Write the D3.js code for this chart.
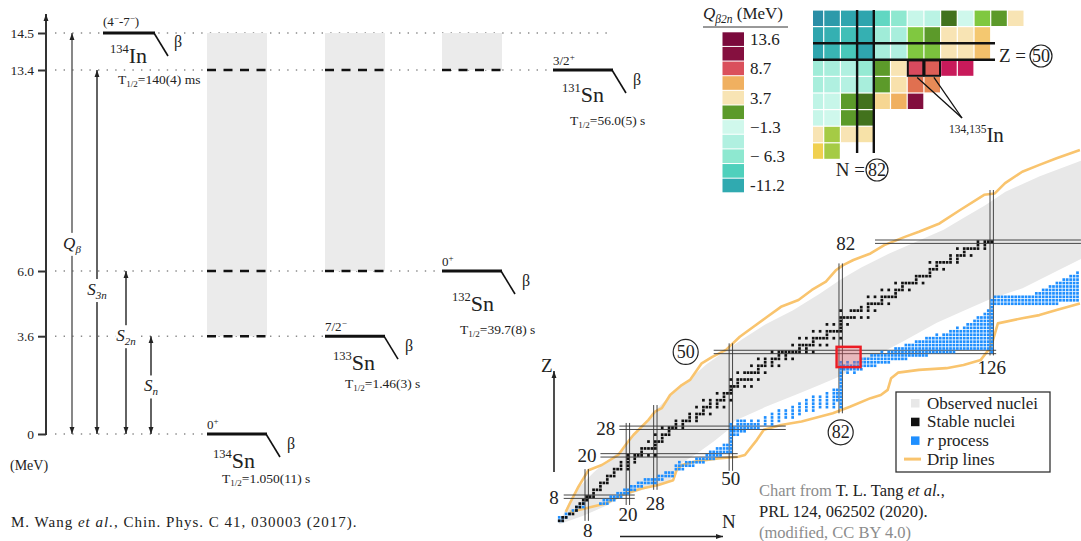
<!DOCTYPE html>
<html>
<head>
<meta charset="utf-8">
<script src="https://cdn.jsdelivr.net/npm/d3@7"></script>
<style>
body { margin: 0; background: #fff; }
svg { display: block; font-family: "Liberation Serif", "Times New Roman", serif; }
</style>
</head>
<body>
<div id="container"></div>
<script>
///level scheme data
const levelE = [0, 3.6, 6.0, 13.4, 14.5];
const nuclei = ["134Sn", "133Sn", "132Sn", "131Sn"];
const nucleiMass = ["134", "133", "132", "131"];
const nucleiE = [0, 3.6, 6.0, 13.4];
const nucleiSpin = [["0", "+"], ["7/2", "\u2212"], ["0", "+"], ["3/2", "+"]];
const nucleiHalf = ["1.050(11) s", "1.46(3) s", "39.7(8) s", "56.0(5) s"];
const parentMass = "134", parentE = 14.5, parentHalf = "140(4) ms";
const windowLow = [3.6, 6.0, 13.4]; // shaded windows under 134Sn, 133Sn, 132Sn
const gapNames = ["Q", "S", "S", "S"];
const gapSubs = ["\u03b2", "3n", "2n", "n"];
const gapE = [14.5, 13.4, 6.0, 3.6];
const gapLabelE = [7.0, 5.3, 3.6, 1.75];

///nuclear chart data [N, Z]
const protonDrip = [[1.9,3.6],[3.1,6.1],[4.1,8],[5.6,10.9],[8.5,15.7],[12.4,17.2],[17.2,20.1],[19.7,23.5],[21.6,25.9],[26,30.3],[27.9,32.7],[29.9,33.7],[32.3,37.5],[35.7,40.4],[38.1,41.9],[41.5,46.7],[44.6,48.6],[48.6,50.6],[52.6,54.4],[56.6,57.3],[60.6,60.2],[64.6,63.1],[69.7,65.1],[73.6,68],[77.7,70.4],[80.7,73.8],[82.7,75.2],[85.7,76.7],[90.7,78.6],[94.7,81],[100.7,83.4],[104.8,84.9],[110.8,87.3],[116.8,91.2],[123.8,95.6],[126.9,96],[129.9,99],[134.9,102.3],[139.9,104.3],[144.9,106.2],[151.7,108.6]];
const neutronDrip = [[3.1,3.6],[7.5,4.6],[13.8,6.1],[15.3,7],[18.2,8.5],[24,10.4],[28.9,11.4],[33.2,12.8],[34.2,15.7],[35.7,17.2],[39.6,18.2],[46.3,19.1],[52.2,19.6],[54.1,20.1],[57.6,24.5],[59.6,27.4],[64.6,28.8],[70.6,29.8],[79.7,32.2],[84.7,34.1],[90.7,36.6],[93.7,37.5],[95.7,39],[96.7,42.4],[98.7,44],[104.8,44.8],[112.8,45.3],[117.8,46.2],[122.8,47.7],[125.8,51.5],[127.8,58.3],[134.9,59.8],[139.9,60.7],[144.9,62.2],[151.7,64.1]];
const observedUpper = [[0,0.5],[1.5,3.5],[3,6.5],[5,10],[8,13],[10,15],[14,18.5],[18,21.5],[21,25.5],[25,29.5],[28,33],[31,36],[35,39.5],[39,43],[43,46.5],[48,50],[53,53.5],[60,58],[68,62],[76,67],[82,71],[88,74.5],[96,78.5],[104,82],[112,85.5],[118,89],[124,92.5],[130,96.5],[140,101],[152,105.5]];
const observedLower = [[152,77],[145,73.5],[135,68.5],[126,65.5],[118,62],[110,58.5],[100,53],[88,46.8],[82,43],[76,40.5],[70,38],[60,34],[51,30],[50,28],[45,24],[40,20.5],[36,18],[34,15],[32,12.5],[26,10.5],[18,8],[14,5.5],[7,2.5],[0,0]];
// stable nuclei: [Z, N, N, ...]
const stable = [[1,0,1],[2,1,2],[3,3,4],[4,5],[5,5,6],[6,6,7],[7,7,8],[8,8,9,10],[9,10],[10,10,11,12],[11,12],[12,12,13,14],[13,14],[14,14,15,16],[15,16],[16,16,17,18,20],[17,18,20],[18,18,20,22],[19,20,22],[20,20,22,23,24,26,28],[21,24],[22,24,25,26,27,28],[23,28],[24,26,28,29,30],[25,30],[26,28,30,31,32],[27,32],[28,30,32,33,34,36],[29,34,36],[30,34,36,37,38,40],[31,38,40],[32,38,40,41,42,44],[33,42],[34,40,42,43,44,46,48],[35,44,46],[36,42,44,46,47,48,50],[37,48],[38,46,48,49,50],[39,50],[40,50,51,52,54,56],[41,52],[42,50,52,53,54,55,56,58],[44,52,54,55,56,57,58,60],[45,58],[46,56,58,59,60,62,64],[47,60,62],[48,58,60,62,63,64,66,68],[49,64,66],[50,62,64,65,66,67,68,69,70,72,74],[51,70,72],[52,68,70,71,72,73,74,76,78],[53,74],[54,70,72,74,75,76,77,78,80,82],[55,78],[56,74,76,78,79,80,81,82],[57,82],[58,78,80,82,84],[59,82],[60,82,83,84,85,86,88,90],[62,82,85,86,87,88,90,92],[63,88,90],[64,90,91,92,93,94,96],[65,94],[66,90,92,94,95,96,97,98],[67,98],[68,94,96,98,99,100,102],[69,100],[70,98,100,101,102,103,104,106],[71,104],[72,104,105,106,107,108],[73,108],[74,108,109,110,112],[75,110],[76,108,110,111,112,113,114,116],[77,114,116],[78,114,116,117,118,120],[79,118],[80,116,118,119,120,121,122,124],[81,122,124],[82,122,124,125,126]];
// r-process path: [N, Zmin, Zmax]
const rProcess = [[0,1,2],[1,1,2],[2,2,3],[3,3,3],[4,4,4],[5,4,5],[6,5,5],[7,5,6],
[12,6,6],[13,6,7],[14,6,7],[15,7,8],[16,7,8],[17,8,9],[18,8,9],[19,9,10],[20,9,10],[21,10,11],[22,10,11],[23,11,12],[24,11,12],[25,12,13],[26,12,13],[27,12,13],[28,12,13],[29,13,14],[30,13,14],[31,14,15],[32,14,15],[33,14,15],[34,16,17],[35,16,18],[36,16,17],[37,17,18],[38,17,18],[39,17,18],[40,18,19],[41,18,19],[42,18,19],[43,19,20],[44,19,21],[45,19,21],[46,20,22],[47,20,22],[48,21,23],[49,21,23],[50,21,29],[51,26,28],[52,26,30],[53,27,30],[54,27,30],[55,28,29],[56,28,30],[57,28,29],[58,28,30],
[60,29,31],[62,29,32],[64,30,33],[66,31,33],[68,31,34],[70,32,35],[72,33,36],[74,33,37],[76,34,37],[78,34,38],[80,34,39],[81,36,39],[82,34,47],
[83,45,46],[84,44,47],[85,45,46],[86,44,47],[87,45,47],[88,45,48],[89,46,48],[90,46,48],[91,46,49],[92,46,49],[93,47,49],[94,47,50],[95,47,49],[96,47,50],[97,48,50],[98,48,51],[99,48,51],[100,48,51],[101,48,52],[102,49,52],[103,49,52],[104,49,53],[105,49,53],[106,49,53],[107,49,54],[108,50,54],[109,50,54],[110,50,55],[111,50,54],[112,50,55],[113,50,55],[114,50,56],[115,50,56],[116,51,57],[117,51,56],[118,51,57],[119,51,58],[120,51,58],[121,51,59],[122,51,60],[123,51,60],[124,51,61],[125,51,62],[126,50,65],
[127,64,66],[128,64,66],[129,64,66],[130,64,66],[131,64,66],[132,64,66],[133,64,66],[134,64,66],[135,64,66],[136,64,66],[137,64,66],[138,64,66],[139,64,67],[140,64,67],[141,64,68],[142,64,68],[143,64,69],[144,64,69],[145,64,70],[146,65,70],[147,65,71],[148,65,71],[149,65,72],[150,65,72],[151,65,73]];
const magicN = [8, 20, 28, 50, 82, 126];
const magicNZ = [[1,16],[5.6,29.4],[10,34.6],[15.5,52.5],[32.2,75.7],[49,97]];
const magicZ = [8, 20, 28, 50, 82];
const magicZN = [[1.3,22],[12,52],[17.5,66],[45,127.3],[92,152]];
const highlightN = [80.8, 87.8], highlightZ = [45.6, 51.5];

///inset data: Q(beta 2n) in MeV, rows Z, columns start at N=79
const insetZ = [52, 51, 50, 49, 48, 47, 46, 45, 44];
const insetQ = [
  [-13, -12.2, -11.5, -11.5, -8.0, -6.3, -2.0, -3.0, -0.6, -1.4, 2.0, 1.3, 3.7],
  [-11.5, -10.8, -9.8, -10.8, -5.0, -4.4, 2.0, 1.3, 3.7, 3.7, 5.3],
  [-11.5, -10.5, -9.2, -11.5, -4.4, -3.8, 2.0, 1.9, 3.7, 3.7, 5.6],
  [-5.0, -4.4, -3.8, -5.8, 1.3, 3.7, 8.9, 8.2, 10, 10],
  [-4.4, -3.8, -3.4, -4.4, 1.3, 3.9, 7.6, 7.0],
  [-2.6, -2.0, 1.3, -0.6, 4.5, 6.2, 12],
  [-2.0, -1.4, 1.3, -0.6],
  [3.7, 2.3, 3.7, 3.6],
  [2.9, 2.3]
];
const insetN0 = 79;
const boxedN = [85, 86], boxedZ = 49;
const legendQ = [13.6, 11.2, 8.7, 6.2, 3.7, 1.3, -1.3, -3.8, -6.3, -8.7, -11.2];
const legendText = ["13.6", "", "8.7", "", "3.7", "", "\u22121.3", "", "\u2212 6.3", "", "-11.2"];

///colour scale
const qStops = [-13, -11.2, -8.7, -6.3, -3.8, -1.3, -1.0, 1.3, 2.0, 2.9, 3.7, 5.3, 6.2, 7.6, 8.9, 10, 11.2, 13.6];
const qColors = ["#2a8ea6", "#30aab0", "#4fd0bc", "#8ee8d0", "#b0f0e0", "#d0f8ec", "#3d6a1a", "#5c9a2a", "#80c840", "#f0d050", "#f8e4b4", "#f4c870", "#f0b060", "#e07050", "#d94a5e", "#c81a5a", "#85103f", "#7b0a3c"];
const qColor = d3.scaleLinear().domain(qStops).range(qColors);

///svg
let w = 1081, h = 541;
const svg = d3.select("#container").append("svg").attr("width", w).attr("height", h);
const defs = svg.append("defs");
defs.append("marker").attr("id", "arr").attr("viewBox", "0 0 10 10")
  .attr("refX", 10).attr("refY", 5).attr("markerWidth", 7).attr("markerHeight", 7)
  .attr("markerUnits", "userSpaceOnUse").attr("orient", "auto-start-reverse")
  .append("path").attr("d", "M0,1.5 L10,5 L0,8.5 z").attr("fill", "#222");
const ink = "#222";

function nucLabel(g, x, y, mass, sym) {
  const t = g.append("text").attr("x", x).attr("y", y).attr("fill", ink);
  t.append("tspan").attr("font-size", 12.5).attr("dy", -10).text(mass);
  t.append("tspan").attr("font-size", 22).attr("dy", 10).text(sym);
}
function halfLabel(g, x, y, val) {
  const t = g.append("text").attr("x", x).attr("y", y).attr("font-size", 13.5).attr("fill", ink);
  t.append("tspan").text("T");
  t.append("tspan").attr("font-size", 9).attr("dy", 3).text("1/2");
  t.append("tspan").attr("dy", -3).text("=" + val);
}
function spinLabel(g, x, y, parts) {
  const t = g.append("text").attr("x", x).attr("y", y).attr("font-size", 13).attr("fill", ink);
  parts.forEach((p, i) => {
    t.append("tspan").attr("font-size", i % 2 ? 9 : 13).attr("dy", i === 0 ? 0 : (i % 2 ? -5 : 5)).text(p);
  });
}

///=== level scheme ===
const yE = d3.scaleLinear().domain([0, 13.4, 14.5]).range([434, 70, 33]);
const xCol = d3.scaleOrdinal().domain(nuclei).range([207, 325, 442, 553]);
const xGap = d3.scaleOrdinal().domain(gapSubs).range([72, 97, 126, 151]);
const barW = 60, parentX = 103, parentW = 52;
const gLev = svg.append("g");

// dotted guide lines
const dotEnd = levelE.map(E => E === parentE ? xCol("131Sn") + barW : xCol(nuclei[nucleiE.indexOf(E)]));
gLev.selectAll(".dot").data(levelE).join("line")
  .attr("x1", 55).attr("x2", (d, i) => dotEnd[i])
  .attr("y1", d => yE(d)).attr("y2", d => yE(d))
  .attr("stroke", "#8a8a8a").attr("stroke-width", 1.4).attr("stroke-dasharray", "1.4 7.2");

// shaded windows
gLev.selectAll(".win").data(windowLow).join("rect")
  .attr("x", (d, i) => xCol(nuclei[i])).attr("width", barW)
  .attr("y", yE(parentE)).attr("height", d => yE(d) - yE(parentE))
  .attr("fill", "#ebebeb");
windowLow.forEach((lo, i) => {
  levelE.filter(E => E < parentE && E >= lo).forEach(E => {
    gLev.append("line").attr("x1", xCol(nuclei[i])).attr("x2", xCol(nuclei[i]) + barW)
      .attr("y1", yE(E)).attr("y2", yE(E))
      .attr("stroke", "#111").attr("stroke-width", 2.4).attr("stroke-dasharray", "9 7.5");
  });
});

// axis
const yAxis = d3.axisLeft(yE).tickValues(levelE).tickSize(8).tickPadding(4)
  .tickFormat(d => d === 0 ? "0" : d3.format(".1f")(d));
const ax = svg.append("g").attr("transform", "translate(46,0)").call(yAxis);
ax.attr("font-family", null).attr("font-size", 13.5);
ax.select(".domain").remove();
ax.selectAll("line").attr("stroke", "#333").attr("stroke-width", 2);
ax.selectAll("text").attr("fill", ink);
svg.append("line").attr("x1", 46).attr("x2", 46).attr("y1", yE(0) + 1).attr("y2", 14)
  .attr("stroke", "#333").attr("stroke-width", 2).attr("marker-end", "url(#arr)");
svg.append("text").attr("x", 10).attr("y", 470).attr("font-size", 14).attr("fill", ink).text("(MeV)");

// energy gaps
gapSubs.forEach((s, i) => {
  const x = xGap(s);
  gLev.append("line").attr("x1", x).attr("x2", x).attr("y1", yE(0)).attr("y2", yE(gapE[i]))
    .attr("stroke", i === 0 ? "#555" : "#222").attr("stroke-width", 1.4)
    .attr("marker-start", "url(#arr)").attr("marker-end", "url(#arr)");
  const bg = gLev.append("rect").attr("fill", "#fff");
  const t = gLev.append("text").attr("x", x).attr("y", yE(gapLabelE[i]) + 5)
    .attr("text-anchor", "middle").attr("font-style", "italic").attr("font-size", 17).attr("fill", ink);
  t.append("tspan").text(gapNames[i]);
  t.append("tspan").attr("font-size", 11).attr("dy", 4).text(s);
  const b = t.node().getBBox();
  bg.attr("x", b.x - 1).attr("y", b.y - 1).attr("width", b.width + 2).attr("height", b.height + 2);
});

// daughter levels
const nucDx = [6, 8, 10, 9], nucDy = [34, 34, 40, 32];
const halfDx = [15, 20, 18, 17], halfDy = [49, 52, 63, 55];
nuclei.forEach((n, i) => {
  const x = xCol(n), y = yE(nucleiE[i]);
  gLev.append("line").attr("x1", x).attr("x2", x + barW).attr("y1", y).attr("y2", y)
    .attr("stroke", "#111").attr("stroke-width", 3);
  gLev.append("line").attr("x1", x + barW - 1).attr("x2", x + barW + 13).attr("y1", y).attr("y2", y + 23)
    .attr("stroke", "#111").attr("stroke-width", 1.6);
  gLev.append("text").attr("x", x + barW + 20).attr("y", y + 15).attr("font-size", 16).attr("fill", ink).text("\u03b2");
  spinLabel(gLev, x, y - 5, nucleiSpin[i]);
  nucLabel(gLev, x + nucDx[i], y + nucDy[i], nucleiMass[i], "Sn");
  halfLabel(gLev, x + halfDx[i], y + halfDy[i], nucleiHalf[i]);
});
// parent 134In
{
  const y = yE(parentE);
  gLev.append("line").attr("x1", parentX).attr("x2", parentX + parentW).attr("y1", y).attr("y2", y)
    .attr("stroke", "#111").attr("stroke-width", 3);
  gLev.append("line").attr("x1", parentX + parentW - 1).attr("x2", parentX + parentW + 13).attr("y1", y).attr("y2", y + 23)
    .attr("stroke", "#111").attr("stroke-width", 1.6);
  gLev.append("text").attr("x", parentX + parentW + 19).attr("y", y + 14).attr("font-size", 16).attr("fill", ink).text("\u03b2");
  spinLabel(gLev, parentX, y - 7, ["(4", "\u2212", "-7", "\u2212", ")"]);
  nucLabel(gLev, parentX + 7, y + 30, parentMass, "In");
  halfLabel(gLev, parentX + 15, y + 51, parentHalf);
}
{
  const t = svg.append("text").attr("x", 11).attr("y", 527).attr("font-size", 15).attr("fill", ink).attr("letter-spacing", 1.0);
  t.append("tspan").text("M. Wang ");
  t.append("tspan").attr("font-style", "italic").text("et al.");
  t.append("tspan").text(", Chin. Phys. C 41, 030003 (2017).");
}

///=== nuclear chart ===
const xN = d3.scaleLinear().domain([8, 126]).range([586.7, 991.7]);
const yZ = d3.scaleLinear().domain([8, 82]).range([496.7, 241.7]);
const gC = svg.append("g");
const line = d3.line().x(d => xN(d[0])).y(d => yZ(d[1]));

gC.append("path").attr("d", line(observedUpper.concat(observedLower)) + "Z").attr("fill", "#e8e8e8");
[protonDrip, neutronDrip].forEach(dl => {
  gC.append("path").attr("d", line(dl)).attr("fill", "none")
    .attr("stroke", "#f9c46e").attr("stroke-width", 2.6).attr("stroke-linejoin", "round");
});

// magic numbers: double lines
function dbl(x1, y1, x2, y2, vert) {
  [-1.7, 1.7].forEach(o => {
    gC.append("line").attr("x1", x1 + (vert ? o : 0)).attr("x2", x2 + (vert ? o : 0))
      .attr("y1", y1 + (vert ? 0 : o)).attr("y2", y2 + (vert ? 0 : o))
      .attr("stroke", "#333").attr("stroke-width", 0.9);
  });
}
magicN.forEach((n, i) => dbl(xN(n), yZ(magicNZ[i][0]), xN(n), yZ(magicNZ[i][1]), true));
magicZ.forEach((z, i) => dbl(xN(magicZN[i][0]), yZ(z), xN(magicZN[i][1]), yZ(z), false));

// stable & r-process cells
const stableCells = stable.flatMap(r => r.slice(1).map(n => [n, r[0]]));
const rCells = rProcess.flatMap(r => d3.range(r[1], r[2] + 1).map(z => [r[0], z]));
const cs = 2.7;
gC.selectAll(".rp").data(rCells).join("rect")
  .attr("x", d => xN(d[0]) - cs / 2).attr("y", d => yZ(d[1]) - cs / 2)
  .attr("width", cs).attr("height", cs).attr("fill", "#1f8fff");
gC.selectAll(".st").data(stableCells).join("rect")
  .attr("x", d => xN(d[0]) - cs / 2).attr("y", d => yZ(d[1]) - cs / 2)
  .attr("width", cs).attr("height", cs).attr("fill", "#111");

gC.append("rect").attr("x", xN(highlightN[0])).attr("y", yZ(highlightZ[1]))
  .attr("width", xN(highlightN[1]) - xN(highlightN[0])).attr("height", yZ(highlightZ[0]) - yZ(highlightZ[1]))
  .attr("fill", "rgba(235,95,105,0.35)").attr("stroke", "#ec1c24").attr("stroke-width", 2.4);

function numLabel(x, y, s, anchor) {
  gC.append("text").attr("x", x).attr("y", y).attr("text-anchor", anchor || "middle")
    .attr("font-size", 19).attr("fill", ink).text(s);
}
function circled(g, x, y, s, r) {
  g.append("circle").attr("cx", x).attr("cy", y).attr("r", r).attr("fill", "none").attr("stroke", "#222").attr("stroke-width", 1.2);
  g.append("text").attr("x", x).attr("y", y + 6).attr("text-anchor", "middle").attr("font-size", 18).attr("fill", ink).text(s);
}
// Z labels left of lines, N labels below lines
numLabel(xN(magicZN[0][0]) - 5, yZ(8) + 7, "8", "end");
numLabel(xN(magicZN[1][0]) - 4, yZ(20) + 7, "20", "end");
numLabel(xN(magicZN[2][0]) - 4, yZ(28) + 7, "28", "end");
circled(gC, xN(magicZN[3][0]) - 28, yZ(50), "50", 12.5);
numLabel(xN(82) + 5, yZ(magicNZ[4][1]) - 13, "82");
numLabel(xN(8) + 1, yZ(magicNZ[0][0]) + 16.5, "8");
numLabel(xN(20), yZ(magicNZ[1][0]) + 16, "20");
numLabel(xN(28), yZ(magicNZ[2][0]) + 20, "28");
numLabel(xN(50), yZ(magicNZ[3][0]) + 14, "50");
circled(gC, xN(82), yZ(magicNZ[4][0]) + 19, "82", 12.5);
numLabel(xN(126), yZ(magicNZ[5][0]) + 19, "126");

// axis arrows
gC.append("line").attr("x1", 554).attr("x2", 554).attr("y1", 472).attr("y2", 371)
  .attr("stroke", "#222").attr("stroke-width", 1.6).attr("marker-end", "url(#arr)");
gC.append("text").attr("x", 541).attr("y", 372).attr("font-size", 19).attr("fill", ink).text("Z");
gC.append("line").attr("x1", 620).attr("x2", 723).attr("y1", 536.5).attr("y2", 536.5)
  .attr("stroke", "#222").attr("stroke-width", 1.6).attr("marker-end", "url(#arr)");
gC.append("text").attr("x", 722).attr("y", 528).attr("font-size", 19).attr("fill", ink).text("N");

// legend
const legendLabels = ["Observed nuclei", "Stable nuclei", "process", "Drip lines"];
const legendCols = ["#e8e8e8", "#111", "#1f8fff", "#f9c46e"];
const lg = svg.append("g").attr("transform", "translate(896,392)");
lg.append("rect").attr("width", 154).attr("height", 80).attr("fill", "#fff").attr("stroke", "#333").attr("stroke-width", 1.3);
legendLabels.forEach((s, i) => {
  const y = 11 + i * 18.7;
  if (i < 3) lg.append("rect").attr("x", 15).attr("y", y - 4).attr("width", 8.5).attr("height", 8.5).attr("fill", legendCols[i]);
  else lg.append("line").attr("x1", 8).attr("x2", 25).attr("y1", y).attr("y2", y).attr("stroke", legendCols[i]).attr("stroke-width", 3);
  const t = lg.append("text").attr("x", 31).attr("y", y + 5.5).attr("font-size", 17).attr("fill", ink);
  if (i === 2) t.append("tspan").attr("font-style", "italic").text("r ");
  t.append("tspan").text(s);
});

// credit
{
  const c = svg.append("g").attr("font-size", 16.5);
  const t1 = c.append("text").attr("x", 759).attr("y", 496);
  t1.append("tspan").attr("fill", "#8c8c8c").text("Chart from ");
  t1.append("tspan").attr("fill", ink).text("T. L. Tang ");
  t1.append("tspan").attr("fill", ink).attr("font-style", "italic").text("et al.");
  t1.append("tspan").attr("fill", ink).text(",");
  c.append("text").attr("x", 759).attr("y", 517).attr("fill", ink).text("PRL 124, 062502 (2020).");
  c.append("text").attr("x", 759).attr("y", 538).attr("fill", "#8c8c8c").text("(modified, CC BY 4.0)");
}

///=== inset ===
const xI = d3.scaleLinear().domain([insetN0, insetN0 + 13]).range([807, 807 + 13 * 16.7]);
const yI = d3.scaleLinear().domain([52, 43]).range([10, 10 + 9 * 16.6]);
defs.append("clipPath").attr("id", "insetClip").append("rect").attr("x", 813).attr("y", 0).attr("width", 268).attr("height", 200);
const gI = svg.append("g");
const insetCells = insetQ.flatMap((row, r) => row.map((q, c) => ({N: insetN0 + c, Z: insetZ[r], q: q})));
gI.append("g").attr("clip-path", "url(#insetClip)").selectAll("rect").data(insetCells).join("rect")
  .attr("x", d => xI(d.N) + 0.6).attr("y", d => yI(d.Z) + 0.6)
  .attr("width", 15.5).attr("height", 15.4).attr("fill", d => qColor(d.q));
[82, 83].forEach(n => gI.append("line").attr("x1", xI(n)).attr("x2", xI(n)).attr("y1", 10).attr("y2", 153)
  .attr("stroke", "#111").attr("stroke-width", 2.4));
[50, 49].forEach(z => gI.append("line").attr("x1", 813).attr("x2", 995).attr("y1", yI(z)).attr("y2", yI(z))
  .attr("stroke", "#111").attr("stroke-width", 2.4));
boxedN.forEach(n => {
  gI.append("rect").attr("x", xI(n) + 0.6).attr("y", yI(boxedZ) + 0.6).attr("width", 15.5).attr("height", 15.4)
    .attr("fill", "none").attr("stroke", "#111").attr("stroke-width", 2);
  gI.append("line").attr("x1", xI(n) + 10).attr("y1", yI(boxedZ - 1) + 1).attr("x2", 962).attr("y2", 118)
    .attr("stroke", "#111").attr("stroke-width", 1.3);
});
{
  const t = gI.append("text").attr("x", 949).attr("y", 142).attr("fill", ink);
  t.append("tspan").attr("font-size", 11.5).attr("dy", -9).text("134,135");
  t.append("tspan").attr("font-size", 21).attr("dy", 9).text("In");
  gI.append("text").attr("x", 999).attr("y", 62).attr("font-size", 19).attr("fill", ink).text("Z =");
  circled(gI, 1041, 56, "50", 11);
  gI.append("text").attr("x", 865).attr("y", 176).attr("text-anchor", "end").attr("font-size", 19).attr("fill", ink).text("N =");
  circled(gI, 877, 170, "82", 11);
}

// inset colour legend
const gK = svg.append("g");
{
  const t = gK.append("text").attr("x", 703).attr("y", 19).attr("font-size", 17).attr("fill", ink);
  t.append("tspan").attr("font-style", "italic").text("Q");
  t.append("tspan").attr("font-style", "italic").attr("font-size", 11.5).attr("dy", 4).text("\u03b22n");
  t.append("tspan").attr("dy", -4).text(" (MeV)");
  gK.append("line").attr("x1", 703).attr("x2", 788).attr("y1", 27).attr("y2", 27).attr("stroke", "#333").attr("stroke-width", 1);
}
const yK = d3.scaleBand().domain(d3.range(legendQ.length)).range([32.3, 192.3]).paddingInner(0.07);
gK.selectAll(".sw").data(legendQ).join("rect")
  .attr("x", 722.5).attr("y", (d, i) => yK(i)).attr("width", 21.5).attr("height", yK.bandwidth())
  .attr("fill", d => qColor(d));
gK.selectAll(".lb").data(legendText).join("text")
  .attr("x", 750).attr("y", (d, i) => yK(i) + yK.bandwidth() / 2 + 6)
  .attr("font-size", 17).attr("fill", ink).text(d => d);
</script>
</body>
</html>
